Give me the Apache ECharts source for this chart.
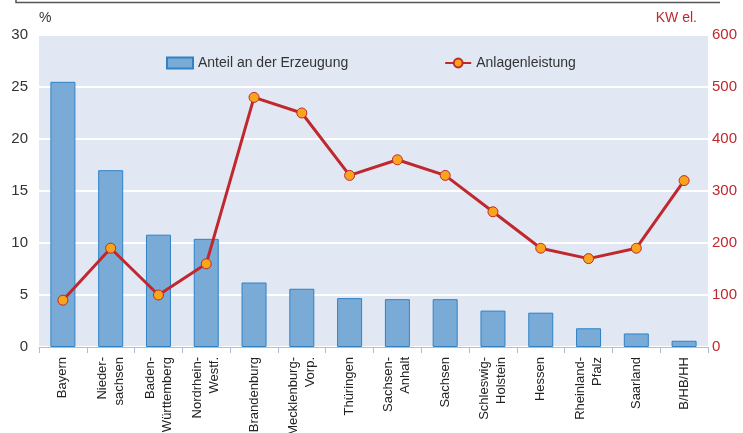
<!DOCTYPE html>
<html><head><meta charset="utf-8">
<script src="https://cdn.jsdelivr.net/npm/echarts@6/dist/echarts.min.js"></script>
<style>html,body{margin:0;padding:0;background:#fff}#c{width:743px;height:433px}</style>
</head><body><div id="c"></div>
<script>
const categories = ['Bayern','Nieder-\nsachsen','Baden-\nWürttemberg','Nordrhein-\nWestf.','Brandenburg','Mecklenburg-\nVorp.','Thüringen','Sachsen-\nAnhalt','Sachsen','Schleswig-\nHolstein','Hessen','Rheinland-\nPfalz','Saarland','B/HB/HH'];
const shareValues = [25.5, 17.0, 10.8, 10.4, 6.2, 5.6, 4.7, 4.6, 4.6, 3.5, 3.3, 1.8, 1.3, 0.6];
const capacityValues = [90, 190, 100, 160, 480, 450, 330, 360, 330, 260, 190, 170, 190, 320];
const seriesNames = ['Anteil an der Erzeugung', 'Anlagenleistung'];
const leftUnit = '%';
const rightUnit = 'KW el.';

const FONT = 'Liberation Sans, Arial, sans-serif';
const chart = echarts.init(document.getElementById('c'), null, {renderer: 'canvas'});
chart.setOption({
  animation: false,
  backgroundColor: '#fff',
  textStyle: {fontFamily: FONT},
  grid: {left: 39, right: 35, top: 35, bottom: 86, show: true, backgroundColor: '#e1e8f3', borderWidth: 0, outerBoundsMode: 'none', containLabel: false},
  graphic: [
    {type: 'polyline', shape: {points: [[16, 0], [16, 2.5], [720, 2.5]]}, style: {stroke: '#555', lineWidth: 1.5, fill: null}},
    {type: 'text', left: 39, top: 11, style: {text: leftUnit, font: '14px ' + FONT, fill: '#333'}},
    {type: 'text', right: 46, top: 11, style: {text: rightUnit, font: '14px ' + FONT, fill: '#c0282e'}}
  ],
  legend: {
    top: 51, left: 161, itemGap: 96, itemWidth: 26, itemHeight: 11,
    textStyle: {fontSize: 14, color: '#333', fontFamily: FONT},
    data: [
      {name: seriesNames[0], icon: 'rect'},
      {name: seriesNames[1]}
    ]
  },
  xAxis: {
    type: 'category', data: categories,
    axisLine: {lineStyle: {color: '#a8bfdc', width: 1}},
    axisTick: {show: true, length: 6, lineStyle: {color: '#a8bfdc'}},
    axisLabel: {rotate: 90, fontSize: 13, color: '#222', lineHeight: 17, margin: 10, interval: 0, fontFamily: FONT}
  },
  yAxis: [
    {type: 'value', min: 0, max: 30, interval: 5,
      axisLine: {show: false}, axisTick: {show: false},
      axisLabel: {fontSize: 15, color: '#333', margin: 11, fontFamily: FONT},
      splitLine: {lineStyle: {color: '#ffffff', width: 2}}},
    {type: 'value', min: 0, max: 600, interval: 100,
      axisLine: {show: false}, axisTick: {show: false},
      axisLabel: {fontSize: 15, color: '#c0282e', margin: 4, fontFamily: FONT},
      splitLine: {show: false}}
  ],
  series: [
    {name: seriesNames[0], type: 'bar', data: shareValues, barWidth: 25, yAxisIndex: 0,
      itemStyle: {color: '#7aabd6', borderColor: '#2f82c6', borderWidth: 1}},
    {name: seriesNames[1], type: 'line', data: capacityValues, yAxisIndex: 1,
      symbol: 'circle', symbolSize: 10,
      lineStyle: {color: '#c0282e', width: 3},
      itemStyle: {color: '#f9a51c', borderColor: '#c0282e', borderWidth: 1}}
  ]
});
</script></body></html>
